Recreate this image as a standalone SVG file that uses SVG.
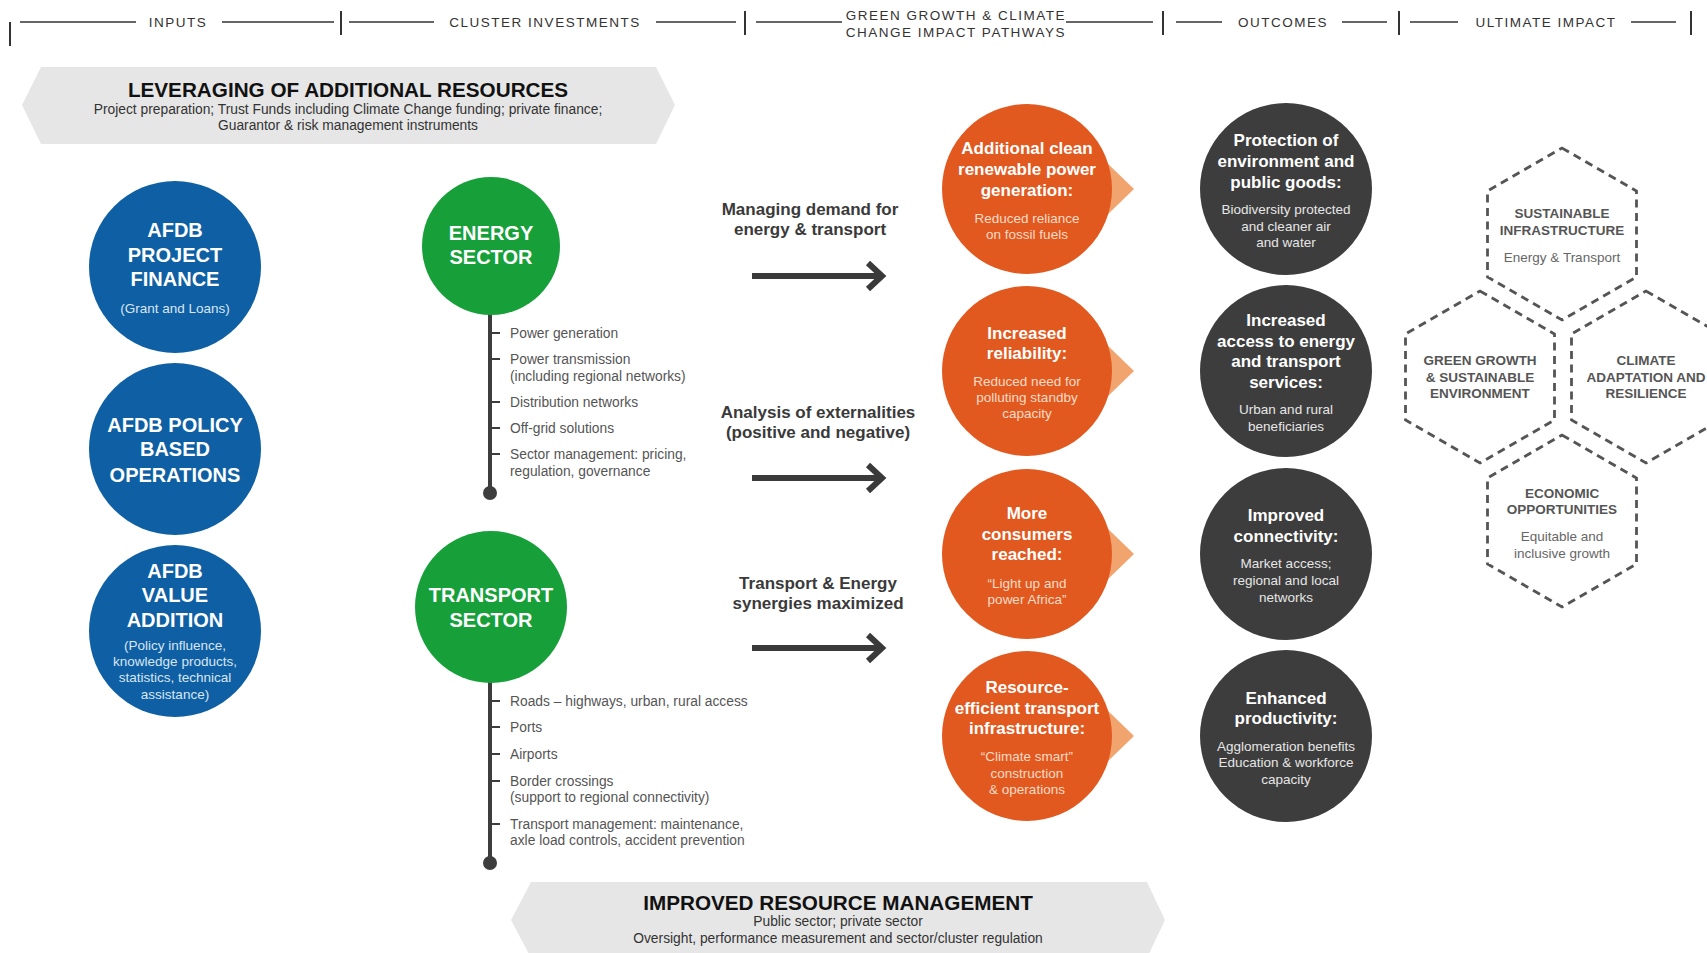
<svg xmlns="http://www.w3.org/2000/svg" width="1707" height="953" viewBox="0 0 1707 953">
<defs>
<style>
text{font-family:"Liberation Sans",Arial,sans-serif}
.hdr{font-size:13.5px;fill:#333;letter-spacing:1.5px;text-anchor:middle}
.hl{stroke:#333;stroke-width:1.5}
.vb{stroke:#333;stroke-width:2}
.bnr{fill:#e6e6e6}
.bt{font-size:20.7px;font-weight:bold;fill:#111;text-anchor:middle}
.bs{font-size:13.8px;fill:#333;text-anchor:middle}
.blue{fill:#0e5fa3}
.green{fill:#17a03a}
.orange{fill:#e2591f}
.dark{fill:#3d3d3d}
.tri{fill:#f2a46f}
.ct{font-size:20px;font-weight:bold;fill:#fff;text-anchor:middle}
.cs{font-size:13.5px;fill:#d9e6f3;text-anchor:middle}
.ot{font-size:17px;font-weight:bold;fill:#fff;text-anchor:middle}
.os{font-size:13.5px;fill:#fbdcc8;text-anchor:middle}
.ds{font-size:13.5px;fill:#e6e6e6;text-anchor:middle}
.tl{stroke:#3d3d3d;stroke-width:4;fill:none}
.tk{stroke:#3d3d3d;stroke-width:2}
.li{font-size:13.8px;fill:#555}
.mt{font-size:17px;font-weight:bold;fill:#3a3a3a;text-anchor:middle}
.arr{stroke:#3a3a3a;stroke-width:6;fill:none}
.hex{fill:none;stroke:#555;stroke-width:2.8;stroke-dasharray:8 5.5}
.ht{font-size:13.5px;font-weight:bold;fill:#555;text-anchor:middle}
.hs{font-size:13.5px;fill:#666;text-anchor:middle}
</style>
</defs>
<rect width="1707" height="953" fill="#fff"/>

<g id="header">
<line class="vb" x1="10" y1="22" x2="10" y2="46"/>
<line class="hl" x1="20" y1="22" x2="136" y2="22"/>
<text class="hdr" x="178" y="27">INPUTS</text>
<line class="hl" x1="222" y1="22" x2="334" y2="22"/>
<line class="vb" x1="341" y1="11" x2="341" y2="35"/>
<line class="hl" x1="349" y1="22" x2="434" y2="22"/>
<text class="hdr" x="545" y="27">CLUSTER  INVESTMENTS</text>
<line class="hl" x1="656" y1="22" x2="736" y2="22"/>
<line class="vb" x1="745" y1="11" x2="745" y2="35"/>
<line class="hl" x1="756" y1="22" x2="842" y2="22"/>
<text class="hdr" x="956" y="20">GREEN GROWTH &amp; CLIMATE</text>
<text class="hdr" x="956" y="37">CHANGE IMPACT PATHWAYS</text>
<line class="hl" x1="1066" y1="22" x2="1153" y2="22"/>
<line class="vb" x1="1163" y1="11" x2="1163" y2="35"/>
<line class="hl" x1="1176" y1="22" x2="1222" y2="22"/>
<text class="hdr" x="1283" y="27">OUTCOMES</text>
<line class="hl" x1="1342" y1="22" x2="1387" y2="22"/>
<line class="vb" x1="1399" y1="11" x2="1399" y2="35"/>
<line class="hl" x1="1410" y1="22" x2="1458" y2="22"/>
<text class="hdr" x="1546" y="27">ULTIMATE IMPACT</text>
<line class="hl" x1="1631" y1="22" x2="1676" y2="22"/>
<line class="vb" x1="1691" y1="11" x2="1691" y2="35"/>
</g>

<g id="leveraging">
<polygon class="bnr" points="22,105 41,67 656,67 675,105 656,144 41,144"/>
<text class="bt" x="348" y="97">LEVERAGING OF ADDITIONAL RESOURCES</text>
<text class="bs" x="348" y="114">Project preparation; Trust Funds including Climate Change funding; private finance;</text>
<text class="bs" x="348" y="130">Guarantor &amp; risk management instruments</text>
</g>

<g id="improved">
<polygon class="bnr" points="511,920 531,882 1147,882 1165,920 1147,958 531,958"/>
<text class="bt" x="838" y="910">IMPROVED RESOURCE MANAGEMENT</text>
<text class="bs" x="838" y="926">Public sector; private sector</text>
<text class="bs" x="838" y="943">Oversight, performance measurement and sector/cluster regulation</text>
</g>

<g id="afdb-project-finance">
<circle class="blue" cx="175" cy="267" r="86"/>
<text class="ct" x="175" y="237">AFDB</text>
<text class="ct" x="175" y="262">PROJECT</text>
<text class="ct" x="175" y="286">FINANCE</text>
<text class="cs" x="175" y="313">(Grant and Loans)</text>
</g>
<g id="afdb-policy">
<circle class="blue" cx="175" cy="449" r="86"/>
<text class="ct" x="175" y="432">AFDB POLICY</text>
<text class="ct" x="175" y="456">BASED</text>
<text class="ct" x="175" y="482">OPERATIONS</text>
</g>
<g id="afdb-value">
<circle class="blue" cx="175" cy="631" r="86"/>
<text class="ct" x="175" y="578">AFDB</text>
<text class="ct" x="175" y="602">VALUE</text>
<text class="ct" x="175" y="627">ADDITION</text>
<text class="cs" x="175" y="650">(Policy influence,</text>
<text class="cs" x="175" y="666">knowledge products,</text>
<text class="cs" x="175" y="682">statistics, technical</text>
<text class="cs" x="175" y="699">assistance)</text>
</g>

<g id="energy-sector">
<line class="tl" x1="490" y1="300" x2="490" y2="493"/>
<circle cx="490" cy="493" r="7" fill="#3d3d3d"/>
<circle class="green" cx="491" cy="246" r="69"/>
<text class="ct" x="491" y="240">ENERGY</text>
<text class="ct" x="491" y="264">SECTOR</text>
<line class="tk" x1="490" y1="333" x2="500" y2="333"/>
<line class="tk" x1="490" y1="359" x2="500" y2="359"/>
<line class="tk" x1="490" y1="402" x2="500" y2="402"/>
<line class="tk" x1="490" y1="428" x2="500" y2="428"/>
<line class="tk" x1="490" y1="454" x2="500" y2="454"/>
<text class="li" x="510" y="338">Power generation</text>
<text class="li" x="510" y="364">Power transmission</text>
<text class="li" x="510" y="381">(including regional networks)</text>
<text class="li" x="510" y="407">Distribution networks</text>
<text class="li" x="510" y="433">Off-grid solutions</text>
<text class="li" x="510" y="459">Sector management: pricing,</text>
<text class="li" x="510" y="476">regulation, governance</text>
</g>

<g id="transport-sector">
<line class="tl" x1="490" y1="670" x2="490" y2="863"/>
<circle cx="490" cy="863" r="7" fill="#3d3d3d"/>
<circle class="green" cx="491" cy="607" r="76"/>
<text class="ct" x="491" y="602">TRANSPORT</text>
<text class="ct" x="491" y="627">SECTOR</text>
<line class="tk" x1="490" y1="701" x2="500" y2="701"/>
<line class="tk" x1="490" y1="727" x2="500" y2="727"/>
<line class="tk" x1="490" y1="754" x2="500" y2="754"/>
<line class="tk" x1="490" y1="781" x2="500" y2="781"/>
<line class="tk" x1="490" y1="824" x2="500" y2="824"/>
<text class="li" x="510" y="706">Roads – highways, urban, rural access</text>
<text class="li" x="510" y="732">Ports</text>
<text class="li" x="510" y="759">Airports</text>
<text class="li" x="510" y="786">Border crossings</text>
<text class="li" x="510" y="802">(support to regional connectivity)</text>
<text class="li" x="510" y="829">Transport management: maintenance,</text>
<text class="li" x="510" y="845">axle load controls, accident prevention</text>
</g>

<g id="connectors">
<path class="arr" d="M752 276 H881 M868 263 L882 276 L868 289"/>
<path class="arr" d="M752 478 H881 M868 465 L882 478 L868 491"/>
<path class="arr" d="M752 648 H881 M868 635 L882 648 L868 661"/>
</g>

<g id="pathway-labels">
<text class="mt" x="810" y="215">Managing demand for</text>
<text class="mt" x="810" y="235">energy &amp; transport</text>
<text class="mt" x="818" y="418">Analysis of externalities</text>
<text class="mt" x="818" y="438">(positive and negative)</text>
<text class="mt" x="818" y="589">Transport &amp; Energy</text>
<text class="mt" x="818" y="609">synergies maximized</text>
</g>

<g id="pathway-1">
<polygon class="tri" points="1105,161 1134,189 1105,217"/>
<circle class="orange" cx="1027" cy="189" r="85"/>
<text class="ot" x="1027" y="154">Additional clean</text>
<text class="ot" x="1027" y="175">renewable power</text>
<text class="ot" x="1027" y="196">generation:</text>
<text class="os" x="1027" y="223">Reduced reliance</text>
<text class="os" x="1027" y="239">on fossil fuels</text>
</g>
<g id="pathway-2">
<polygon class="tri" points="1105,343 1134,371 1105,399"/>
<circle class="orange" cx="1027" cy="371" r="85"/>
<text class="ot" x="1027" y="339">Increased</text>
<text class="ot" x="1027" y="359">reliability:</text>
<text class="os" x="1027" y="386">Reduced need for</text>
<text class="os" x="1027" y="402">polluting standby</text>
<text class="os" x="1027" y="418">capacity</text>
</g>
<g id="pathway-3">
<polygon class="tri" points="1105,526 1134,554 1105,582"/>
<circle class="orange" cx="1027" cy="554" r="85"/>
<text class="ot" x="1027" y="519">More</text>
<text class="ot" x="1027" y="540">consumers</text>
<text class="ot" x="1027" y="560">reached:</text>
<text class="os" x="1027" y="588">“Light up and</text>
<text class="os" x="1027" y="604">power Africa”</text>
</g>
<g id="pathway-4">
<polygon class="tri" points="1105,708 1134,736 1105,764"/>
<circle class="orange" cx="1027" cy="736" r="85"/>
<text class="ot" x="1027" y="693">Resource-</text>
<text class="ot" x="1027" y="714">efficient transport</text>
<text class="ot" x="1027" y="734">infrastructure:</text>
<text class="os" x="1027" y="761">“Climate smart”</text>
<text class="os" x="1027" y="778">construction</text>
<text class="os" x="1027" y="794">&amp; operations</text>
</g>

<g id="outcome-1">
<circle class="dark" cx="1286" cy="189" r="86"/>
<text class="ot" x="1286" y="146">Protection of</text>
<text class="ot" x="1286" y="167">environment and</text>
<text class="ot" x="1286" y="188">public goods:</text>
<text class="ds" x="1286" y="214">Biodiversity protected</text>
<text class="ds" x="1286" y="231">and cleaner air</text>
<text class="ds" x="1286" y="247">and water</text>
</g>
<g id="outcome-2">
<circle class="dark" cx="1286" cy="371" r="86"/>
<text class="ot" x="1286" y="326">Increased</text>
<text class="ot" x="1286" y="347">access to energy</text>
<text class="ot" x="1286" y="367">and transport</text>
<text class="ot" x="1286" y="388">services:</text>
<text class="ds" x="1286" y="414">Urban and rural</text>
<text class="ds" x="1286" y="431">beneficiaries</text>
</g>
<g id="outcome-3">
<circle class="dark" cx="1286" cy="554" r="86"/>
<text class="ot" x="1286" y="521">Improved</text>
<text class="ot" x="1286" y="542">connectivity:</text>
<text class="ds" x="1286" y="568">Market access;</text>
<text class="ds" x="1286" y="585">regional and local</text>
<text class="ds" x="1286" y="602">networks</text>
</g>
<g id="outcome-4">
<circle class="dark" cx="1286" cy="736" r="86"/>
<text class="ot" x="1286" y="704">Enhanced</text>
<text class="ot" x="1286" y="724">productivity:</text>
<text class="ds" x="1286" y="751">Agglomeration benefits</text>
<text class="ds" x="1286" y="767">Education &amp; workforce</text>
<text class="ds" x="1286" y="784">capacity</text>
</g>

<g id="impact-sustainable-infrastructure">
<polygon class="hex" points="1562,148 1636.5,191 1636.5,277 1562,320 1487.5,277 1487.5,191"/>
<text class="ht" x="1562" y="218">SUSTAINABLE</text>
<text class="ht" x="1562" y="235">INFRASTRUCTURE</text>
<text class="hs" x="1562" y="262">Energy &amp; Transport</text>
</g>
<g id="impact-green-growth">
<polygon class="hex" points="1480,291 1554.5,334 1554.5,420 1480,463 1405.5,420 1405.5,334"/>
<text class="ht" x="1480" y="365">GREEN GROWTH</text>
<text class="ht" x="1480" y="382">&amp; SUSTAINABLE</text>
<text class="ht" x="1480" y="398">ENVIRONMENT</text>
</g>
<g id="impact-climate-adaptation">
<polygon class="hex" points="1646,291 1720.5,334 1720.5,420 1646,463 1571.5,420 1571.5,334"/>
<text class="ht" x="1646" y="365">CLIMATE</text>
<text class="ht" x="1646" y="382">ADAPTATION AND</text>
<text class="ht" x="1646" y="398">RESILIENCE</text>
</g>
<g id="impact-economic-opportunities">
<polygon class="hex" points="1562,435 1636.5,478 1636.5,564 1562,607 1487.5,564 1487.5,478"/>
<text class="ht" x="1562" y="498">ECONOMIC</text>
<text class="ht" x="1562" y="514">OPPORTUNITIES</text>
<text class="hs" x="1562" y="541">Equitable and</text>
<text class="hs" x="1562" y="558">inclusive growth</text>
</g>
</svg>
